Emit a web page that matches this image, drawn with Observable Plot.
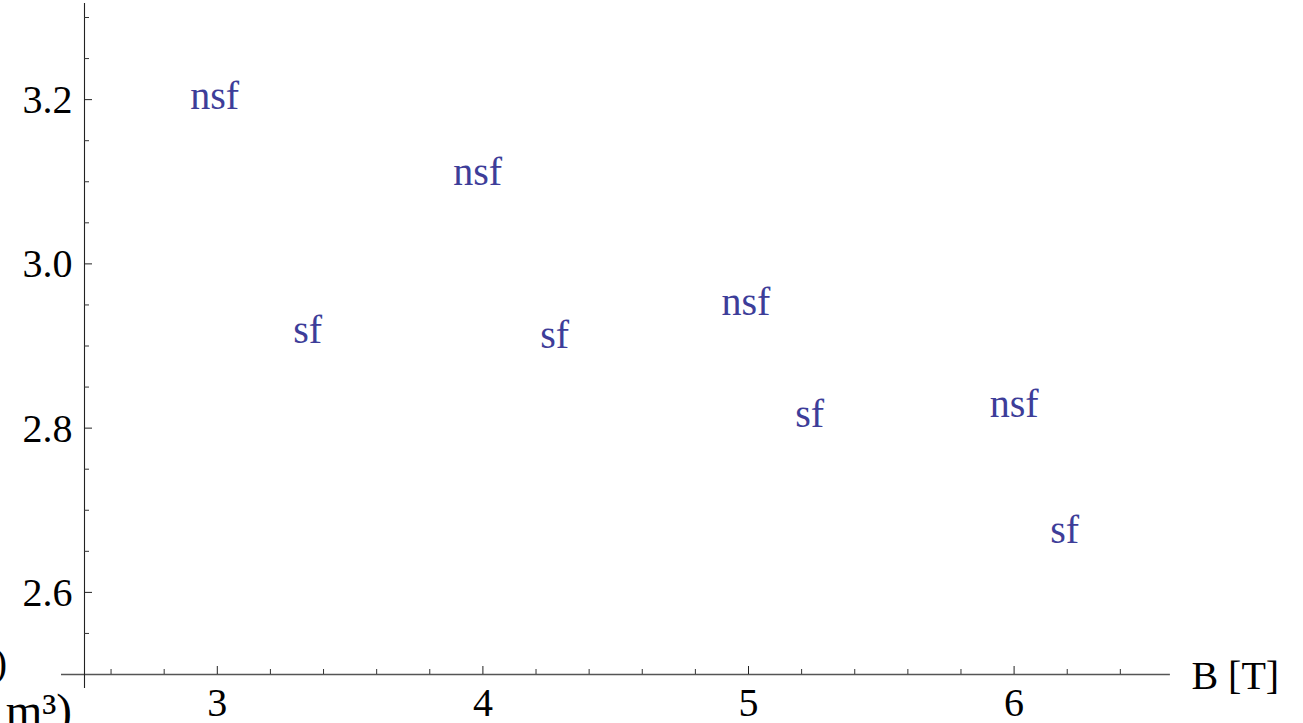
<!DOCTYPE html>
<html>
<head>
<meta charset="utf-8">
<script src="https://cdn.jsdelivr.net/npm/d3@7"></script>
<script src="https://cdn.jsdelivr.net/npm/@observablehq/plot@0.6"></script>
<style>
  html, body { margin: 0; padding: 0; background: #fff; }
  #chart svg { display: block; overflow: hidden; }
</style>
</head>
<body>
<div id="chart"></div>
<script>
// ---- data ----
const pointLabels = ["nsf", "sf", "nsf", "sf", "nsf", "sf", "nsf", "sf"];
const bField = [2.99, 3.34, 3.98, 4.27, 4.99, 5.23, 6.00, 6.19];
const values = [3.200, 2.915, 3.107, 2.909, 2.949, 2.812, 2.824, 2.671];

const xMajorTicks = [3, 4, 5, 6];
const xTickLabels = ["3", "4", "5", "6"];
const xMinorTicks = [2.6, 2.8, 3.2, 3.4, 3.6, 3.8, 4.2, 4.4, 4.6, 4.8, 5.2, 5.4, 5.6, 5.8, 6.2, 6.4];
const yMajorTicks = [2.6, 2.8, 3.0, 3.2];
const yTickLabels = ["2.6", "2.8", "3.0", "3.2"];
const yMinorTicks = [2.55, 2.65, 2.7, 2.75, 2.85, 2.9, 2.95, 3.05, 3.1, 3.15, 3.25, 3.3];

const xAxisTitle = "B [T]";
const yAxisTitleLine1 = "E (10⁵)";
const yAxisTitleLine2 = "(10⁻³ m³)";

// ---- layout ----
const W = 1303, H = 723;
const mL = 84, mR = 156.6, mT = 17, mB = 49;
const innerW = W - mL - mR, innerH = H - mT - mB;
const font = "'Liberation Serif', 'Times New Roman', Times, serif";
const fs = 40;
const labelColor = "#3d3d99";

const points = pointLabels.map((t, i) => ({label: t, b: bField[i], v: values[i]}));
const xLab = xMajorTicks.map((x, i) => ({x, t: xTickLabels[i]}));
const yLab = yMajorTicks.map((y, i) => ({y, t: yTickLabels[i]}));

const pxX = 4 / innerW;   // data units per pixel (x)
const pxY = 0.8 / innerH; // data units per pixel (y)

const txt = {fontFamily: font, fontSize: fs, fill: "#000", lineAnchor: "bottom"};

const chart = Plot.plot({
  width: W,
  height: H,
  marginLeft: mL,
  marginRight: mR,
  marginTop: mT,
  marginBottom: mB,
  style: {fontFamily: font, background: "#fff", overflow: "hidden"},
  x: {domain: [2.5, 6.5], axis: null},
  y: {domain: [2.5, 3.3], axis: null},
  marks: [
    // axis lines (extend slightly beyond plot range, Mathematica style)
    Plot.ruleY([2.5], {x1: 2.5 - 23 * pxX, x2: 6.5 + 23.5 * pxX, stroke: "#555", strokeWidth: 1.6}),
    Plot.ruleX([2.5], {y1: 2.5 - 14 * pxY, y2: 3.3 + 14 * pxY, stroke: "#222", strokeWidth: 1.1}),
    // x ticks (inward, upward)
    Plot.tickX(xMajorTicks, {x: d => d, insetTop: innerH - 8, stroke: "#222", strokeWidth: 1}),
    Plot.tickX(xMinorTicks, {x: d => d, insetTop: innerH - 5, stroke: "#333", strokeWidth: 1}),
    // y ticks (inward, rightward)
    Plot.tickY(yMajorTicks, {y: d => d, insetRight: innerW - 8, stroke: "#222", strokeWidth: 1}),
    Plot.tickY(yMinorTicks, {y: d => d, insetRight: innerW - 5, stroke: "#333", strokeWidth: 1}),
    // tick labels
    Plot.text(xLab, {...txt, x: "x", y: () => 2.5, text: "t", textAnchor: "middle", dy: 41}),
    Plot.text(yLab, {...txt, x: () => 2.5, y: "y", text: "t", textAnchor: "end", dx: -12, dy: 13.5}),
    // axis titles
    Plot.text([xAxisTitle], {...txt, x: () => 6.5, y: () => 2.5, text: d => d,
      textAnchor: "start", dx: 44.5, dy: 14}),
    Plot.text([yAxisTitleLine1], {...txt, x: () => 2.5, y: () => 2.5, text: d => d,
      textAnchor: "end", dx: -77.5, dy: 1}),
    Plot.text([yAxisTitleLine2], {...txt, fontSize: 47, x: () => 2.5, y: () => 2.5, text: d => d,
      textAnchor: "end", dx: -12.5, dy: 51}),
    // point labels
    Plot.text(points, {...txt, fill: labelColor, x: "b", y: "v", text: "label",
      textAnchor: "middle", dy: 9})
  ]
});
document.getElementById("chart").appendChild(chart);
</script>
</body>
</html>
